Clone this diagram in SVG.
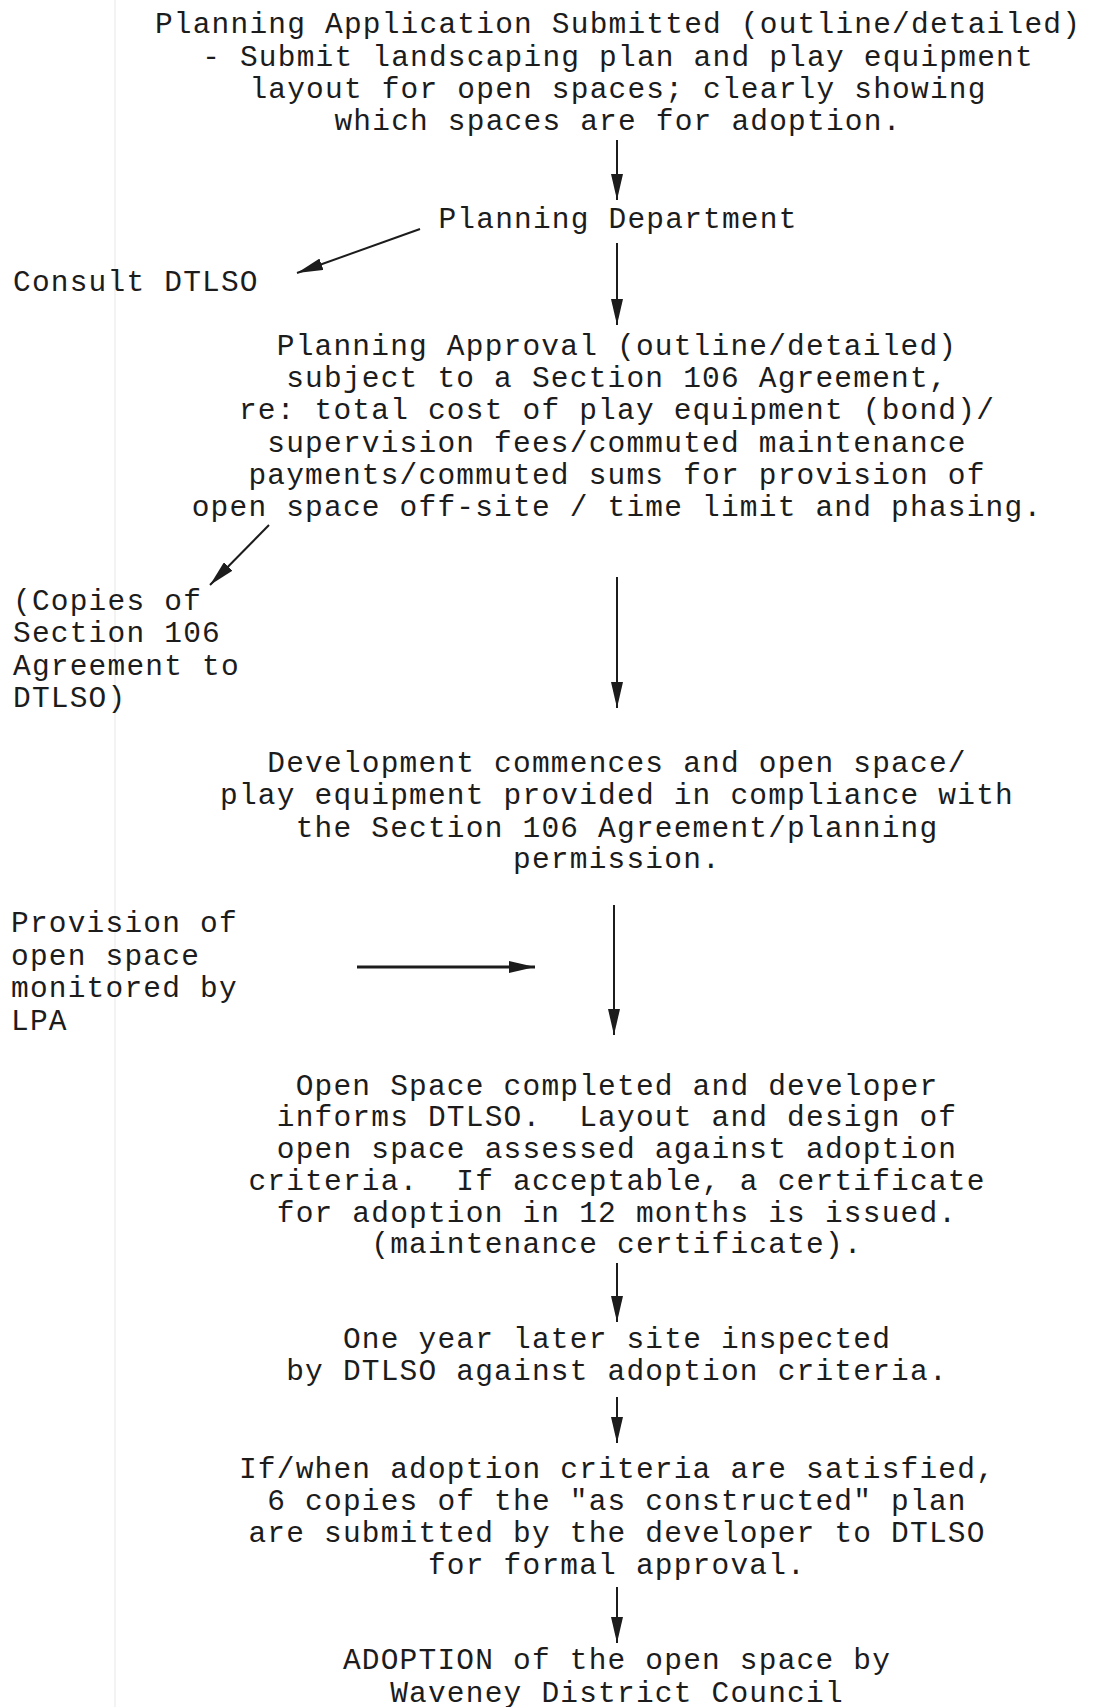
<svg xmlns="http://www.w3.org/2000/svg" width="1093" height="1707" viewBox="0 0 1093 1707">
<style>
  text { font-family: "Liberation Mono", "Courier New", monospace; font-size: 29.5px; letter-spacing: 1.2px; fill: #1c1c1c; white-space: pre; }
  .c { text-anchor: middle; }
  .l { text-anchor: start; }
  .conn line { stroke: #1c1c1c; stroke-width: 2; marker-end: url(#ah); }
</style>
<defs>
  <marker id="ah" markerWidth="26" markerHeight="12" refX="26" refY="6" orient="auto" markerUnits="userSpaceOnUse">
    <path d="M0,0 L26,6 L0,12 Z" fill="#1c1c1c"/>
  </marker>
</defs>
<rect x="0" y="0" width="1093" height="1707" fill="#ffffff"/>
<line x1="115" y1="0" x2="115" y2="1707" stroke="#efefef" stroke-width="1.5"/>

<g id="n-application">
  <text class="c" x="618" y="33">Planning Application Submitted (outline/detailed)</text>
  <text class="c" x="618" y="66">- Submit landscaping plan and play equipment</text>
  <text class="c" x="618" y="98">layout for open spaces; clearly showing</text>
  <text class="c" x="618" y="130">which spaces are for adoption.</text>
</g>
<g id="n-planning-dept">
  <text class="c" x="618" y="228">Planning Department</text>
</g>
<g id="n-consult">
  <text class="l" x="13" y="291">Consult DTLSO</text>
</g>
<g id="n-approval">
  <text class="c" x="617" y="355">Planning Approval (outline/detailed)</text>
  <text class="c" x="617" y="387">subject to a Section 106 Agreement,</text>
  <text class="c" x="617" y="419">re: total cost of play equipment (bond)/</text>
  <text class="c" x="617" y="452">supervision fees/commuted maintenance</text>
  <text class="c" x="617" y="484">payments/commuted sums for provision of</text>
  <text class="c" x="617" y="516">open space off-site / time limit and phasing.</text>
</g>
<g id="n-copies">
  <text class="l" x="13" y="610">(Copies of</text>
  <text class="l" x="13" y="642">Section 106</text>
  <text class="l" x="13" y="675">Agreement to</text>
  <text class="l" x="13" y="707">DTLSO)</text>
</g>
<g id="n-development">
  <text class="c" x="617" y="772">Development commences and open space/</text>
  <text class="c" x="617" y="804">play equipment provided in compliance with</text>
  <text class="c" x="617" y="837">the Section 106 Agreement/planning</text>
  <text class="c" x="617" y="868">permission.</text>
</g>
<g id="n-monitored">
  <text class="l" x="11" y="932">Provision of</text>
  <text class="l" x="11" y="965">open space</text>
  <text class="l" x="11" y="997">monitored by</text>
  <text class="l" x="11" y="1030">LPA</text>
</g>
<g id="n-completed">
  <text class="c" x="617" y="1095">Open Space completed and developer</text>
  <text class="c" x="617" y="1126">informs DTLSO.  Layout and design of</text>
  <text class="c" x="617" y="1158">open space assessed against adoption</text>
  <text class="c" x="617" y="1190">criteria.  If acceptable, a certificate</text>
  <text class="c" x="617" y="1222">for adoption in 12 months is issued.</text>
  <text class="c" x="617" y="1253">(maintenance certificate).</text>
</g>
<g id="n-inspected">
  <text class="c" x="617" y="1348">One year later site inspected</text>
  <text class="c" x="617" y="1380">by DTLSO against adoption criteria.</text>
</g>
<g id="n-satisfied">
  <text class="c" x="617" y="1478">If/when adoption criteria are satisfied,</text>
  <text class="c" x="617" y="1510">6 copies of the "as constructed" plan</text>
  <text class="c" x="617" y="1542">are submitted by the developer to DTLSO</text>
  <text class="c" x="617" y="1574">for formal approval.</text>
</g>
<g id="n-adoption">
  <text class="c" x="617" y="1669">ADOPTION of the open space by</text>
  <text class="c" x="617" y="1702">Waveney District Council</text>
</g>

<g id="connectors" class="conn">
  <line x1="617" y1="140" x2="617" y2="200"/>
  <line x1="420" y1="229" x2="297" y2="273"/>
  <line x1="617" y1="243" x2="617" y2="325"/>
  <line x1="269" y1="525" x2="210" y2="585"/>
  <line x1="617" y1="577" x2="617" y2="708"/>
  <line x1="357" y1="967" x2="535" y2="967" style="stroke-width:3"/>
  <line x1="614" y1="905" x2="614" y2="1035"/>
  <line x1="617" y1="1263" x2="617" y2="1322"/>
  <line x1="617" y1="1397" x2="617" y2="1443"/>
  <line x1="617" y1="1587" x2="617" y2="1643"/>
</g>
</svg>
